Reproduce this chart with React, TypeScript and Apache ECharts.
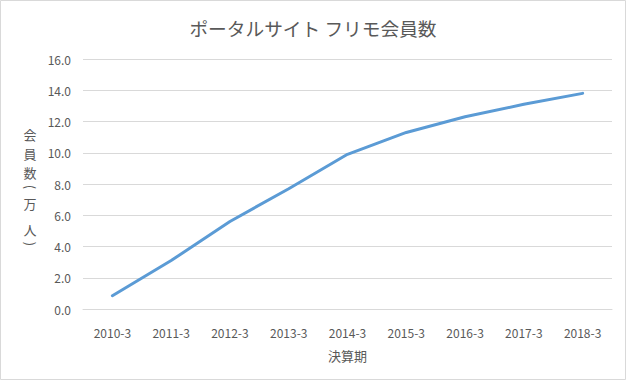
import React, { useEffect, useRef } from "react";
import * as echarts from "echarts";

const categories = ["2010-3", "2011-3", "2012-3", "2013-3", "2014-3", "2015-3", "2016-3", "2017-3", "2018-3"];
const members = [0.85, 3.1, 5.6, 7.7, 9.9, 11.3, 12.3, 13.1, 13.8];
const titleText = "ポータルサイト フリモ会員数";
const xName = "決算期";
const yNameChars = ["会", "員", "数", "(", "万", "人", ")"];
const yNameCenters = [134, 153, 172, 187, 203, 229, 244];
const yNameRotated = [false, false, false, true, false, false, true];

const FONT = "'Noto Sans CJK JP', 'Noto Sans', sans-serif";

export default function App() {
  const ref = useRef<HTMLDivElement>(null);
  useEffect(() => {
    const chart = echarts.init(ref.current!, undefined, { renderer: "svg" });
    chart.setOption({
      animation: false,
      backgroundColor: "#fff",
      textStyle: { fontFamily: FONT },
      title: {
        text: titleText,
        left: "center",
        top: 13,
        textStyle: { fontSize: 18.7, fontWeight: "normal", color: "#595959", fontFamily: FONT },
      },
      grid: { left: 83, right: 14, top: 59, bottom: 71 },
      xAxis: {
        type: "category",
        data: categories,
        name: xName,
        nameLocation: "middle",
        nameGap: 40,
        nameTextStyle: { fontSize: 13, color: "#595959" },
        axisLine: { lineStyle: { color: "#d9d9d9" } },
        axisTick: { show: false },
        axisLabel: { fontSize: 12, color: "#595959", margin: 17 },
      },
      yAxis: {
        type: "value",
        min: 0,
        max: 16,
        interval: 2,
        axisLine: { show: false },
        axisTick: { show: false },
        axisLabel: { fontSize: 12, color: "#595959", margin: 12, formatter: (v: number) => v.toFixed(1) },
        splitLine: { lineStyle: { color: "#d9d9d9" } },
      },
      graphic: [
        ...yNameChars.map((ch, i) => ({
          type: "text",
          x: 30,
          y: yNameCenters[i],
          rotation: yNameRotated[i] ? -Math.PI / 2 : 0,
          style: {
            text: ch,
            fontSize: 13,
            fill: "#595959",
            fontFamily: FONT,
            textAlign: "center",
            textVerticalAlign: "middle",
          },
        })),
        {
          type: "rect",
          shape: { x: 0.5, y: 0.5, width: 625, height: 379 },
          style: { fill: "none", stroke: "#d9d9d9", lineWidth: 1 },
          silent: true,
        },
      ],
      series: [
        {
          type: "line",
          data: members,
          showSymbol: false,
          symbol: "none",
          lineStyle: { color: "#5B9BD5", width: 3, cap: "round" },
          itemStyle: { color: "#5B9BD5" },
        },
      ],
    });
    return () => chart.dispose();
  }, []);
  return (
    <div style={{ position: "fixed", left: 0, top: 0, width: 626, height: 380 }}>
      <div ref={ref} style={{ width: 626, height: 380 }} />
    </div>
  );
}
